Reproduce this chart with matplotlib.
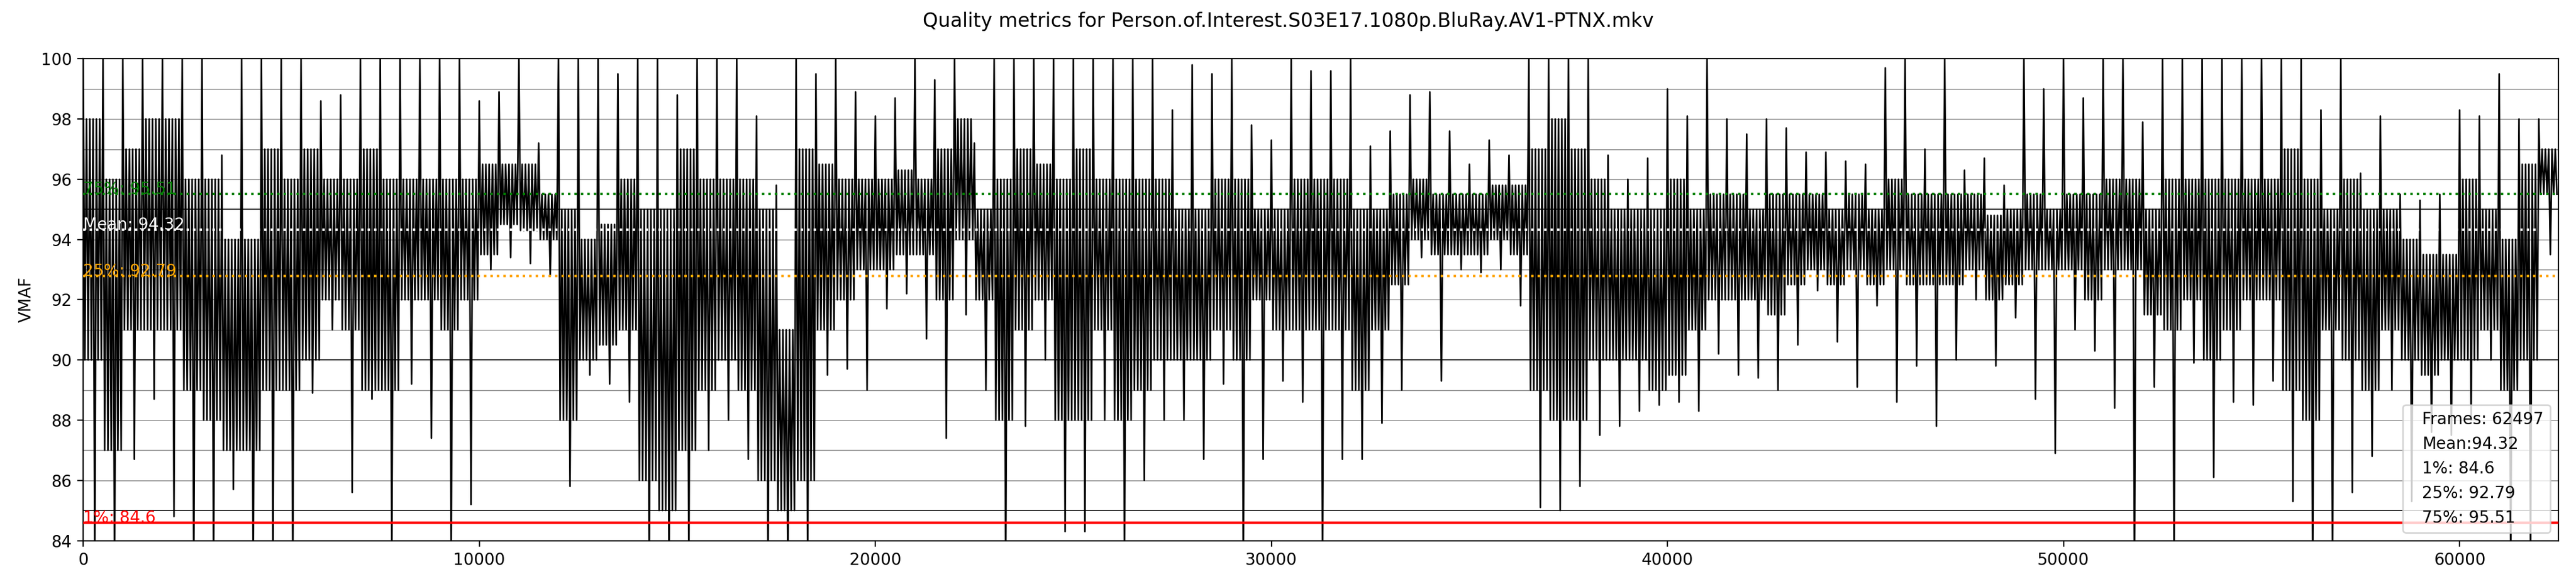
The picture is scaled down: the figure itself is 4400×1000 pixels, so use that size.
import numpy as np
import matplotlib
matplotlib.use("Agg")
import matplotlib.pyplot as plt
from matplotlib.lines import Line2D

# VMAF per 500-frame block
total_frames = 62497
block = 500

vmaf_max = [
    100, 100, 100, 100, 100, 100, 100, 96.8, 100, 100,
    100, 100, 98.6, 98.8, 100, 100, 100, 100, 100, 100,
    98.6, 98.9, 100, 97.2, 100, 100, 100, 99.5, 100, 100,
    98.8, 100, 100, 100, 98.1, 95.8, 100, 99.5, 100, 98.9,
    98.1, 98.7, 100, 99.3, 100, 97.2, 100, 100, 100, 100,
    100, 100, 100, 100, 100, 98.3, 99.8, 99.5, 100, 97.8,
    97.3, 100, 99.6, 99.6, 100, 97.1, 97.6, 98.8, 98.9, 97.6,
    96.5, 97.3, 96.8, 100, 100, 100, 100, 96.8, 96.0, 96.7,
    99.0, 98.1, 100, 98.0, 97.5, 98.0, 97.7, 96.9, 96.9, 96.6,
    96.5, 99.7, 100, 97.0, 100, 96.3, 96.7, 95.8, 100, 99.0,
    100, 98.7, 100, 100, 97.9, 100, 100, 100, 100, 100,
    100, 100, 100, 98.3, 100, 96.2, 98.1, 95.5, 95.3, 95.5,
    98.3, 98.1, 99.5, 98.0, 98.0,
]
vmaf_min = [
    83, 83, 86.7, 88.7, 84.8, 83, 83, 85.7, 83, 83,
    83, 88.9, 91.0, 85.6, 88.7, 83.5, 89.2, 87.4, 83.5, 85.2,
    93.0, 93.4, 93.2, 92.8, 85.8, 89.5, 89.2, 88.6, 83, 83,
    83, 87.0, 88.0, 86.7, 83, 83, 83, 89.5, 89.7, 89.0,
    91.7, 92.2, 90.7, 87.4, 91.5, 89.0, 83, 87.8, 90.0, 84.3,
    84.3, 88.0, 83.5, 86.0, 88.0, 88.0, 86.7, 89.2, 83, 86.7,
    89.3, 88.6, 83.5, 86.7, 86.7, 87.9, 89.0, 93.4, 89.3, 93.0,
    92.9, 93.0, 91.8, 85.1, 85.0, 85.8, 87.5, 87.8, 88.3, 88.5,
    88.6, 88.3, 90.2, 89.5, 89.4, 89.0, 90.5, 92.3, 90.6, 89.1,
    91.8, 88.6, 89.8, 87.8, 90.0, 92.0, 89.8, 91.4, 88.7, 86.9,
    91.0, 90.3, 88.4, 83, 89.1, 83, 89.9, 86.1, 88.6, 88.5,
    89.3, 85.3, 83, 83.5, 85.6, 86.8, 89.0, 85.3, 87.6, 87.5,
    88.0, 90.0, 83, 83, 93.5,
]
# dense band where most frames sit
vmaf_band_lo = [
    90, 87, 91, 91, 91, 89, 88, 87, 87, 89,
    89, 90, 92, 91, 89, 89, 92, 92, 91, 92,
    93.5, 94.5, 94.3, 94, 88, 90, 90.5, 91, 86, 85,
    87, 89, 90, 89, 86, 85, 86, 91, 92, 93,
    93, 93.5, 93.5, 92, 94, 92, 88, 91, 92, 88,
    88, 91, 88, 89, 90, 90, 90, 91, 90, 92,
    91, 91, 91, 91, 89, 91, 92.5, 94, 93.5, 93.5,
    93.5, 94, 93.5, 89, 88, 88, 90, 90, 90, 89,
    89.5, 91, 92, 92, 92, 91.5, 92.5, 93, 92.5, 93,
    92.5, 93, 92.5, 92.5, 92.5, 93, 92, 92.5, 93, 93,
    93, 92, 93, 93, 91.5, 91, 92, 90, 91, 92,
    92, 89, 88, 91, 90, 89, 91, 90, 89.5, 90,
    90, 91, 89, 90, 95.5,
]
vmaf_band_hi = [
    98, 96, 97, 98, 98, 96, 96, 94, 94, 97,
    96, 97, 96, 96, 97, 96, 96, 96, 96, 96,
    96.5, 96.5, 96.5, 95.5, 95, 94, 94.5, 96, 95, 95,
    97, 96, 96, 96, 95, 91, 97, 96.5, 96, 96,
    96, 96.3, 96, 97, 98, 95, 96, 97, 96.5, 96,
    97, 96, 96, 96, 96, 95, 95, 96, 96, 95,
    95, 96, 96, 96, 95, 95, 95.5, 96, 95.5, 95.5,
    95.5, 95.8, 95.8, 97, 98, 97, 96, 95, 95, 95,
    96, 95, 95.5, 95.5, 95, 95.5, 95.5, 95.5, 95, 95.5,
    95, 96, 95.5, 95.5, 95.5, 95.5, 94.8, 95, 95.5, 95,
    95.5, 95.5, 96, 96, 95, 96, 96, 96, 96, 96,
    96, 97, 96, 95, 96, 95, 95, 94, 93.5, 93.5,
    96, 95, 94, 96.5, 97,
]

stat_mean = 94.32
stat_p1 = 84.6
stat_p25 = 92.79
stat_p75 = 95.51
title = "Quality metrics for Person.of.Interest.S03E17.1080p.BluRay.AV1-PTNX.mkv"

hi = np.array(vmaf_max)
lo = np.array(vmaf_min)
blo = np.array(vmaf_band_lo)
bhi = np.array(vmaf_band_hi)
starts = np.arange(len(hi)) * block

# each block traced as: peak, a run through the band, trough, band again
trace = np.column_stack([hi, blo, bhi, blo, bhi, blo, bhi, lo, bhi, blo, bhi, blo])
steps = trace.shape[1]
trace_x = (starts[:, None] + np.arange(steps)[None, :] * block / steps).ravel()
trace_y = trace.ravel()
keep = trace_x <= total_frames

fig, ax = plt.subplots(figsize=(22, 5), dpi=200)
fig.subplots_adjust(left=0.0323, right=0.9932, bottom=0.0775, top=0.8996)

# grid: grey every 1, darker every 5
for v in range(84, 101):
    if v % 5 == 0:
        ax.axhline(v, color="black", linewidth=0.6, zorder=0)
    else:
        ax.axhline(v, color="grey", linewidth=0.5, zorder=0)

ax.plot(trace_x[keep], trace_y[keep], color="black", linewidth=1.0, zorder=2)

ax.axhline(stat_p75, color="green", linestyle=":", linewidth=1.5, zorder=3)
ax.axhline(stat_mean, color="white", linestyle=":", linewidth=1.5, zorder=3)
ax.axhline(stat_p25, color="orange", linestyle=":", linewidth=1.5, zorder=3)
ax.axhline(stat_p1, color="red", linewidth=1.5, zorder=3)
ax.text(0, stat_p75, f"75%: {stat_p75}", color="green", zorder=4)
ax.text(0, stat_mean, f"Mean: {stat_mean}", color="white", zorder=4)
ax.text(0, stat_p25, f"25%: {stat_p25}", color="orange", zorder=4)
ax.text(0, stat_p1, f"1%: {stat_p1}", color="red", zorder=4)

labels = [
    f"Frames: {total_frames}",
    f"Mean:{stat_mean}",
    f"1%: {stat_p1}",
    f"25%: {stat_p25}",
    f"75%: {stat_p75}",
]
handles = [Line2D([], [], linestyle="none", label=s) for s in labels]
ax.legend(handles=handles, loc="lower right", handlelength=0)

ax.set_xlim(0, total_frames)
ax.set_ylim(84, 100)
ax.set_yticks(range(84, 101, 2))
ax.set_ylabel("VMAF")
fig.suptitle(title)

fig.savefig("out.png", dpi=200)
